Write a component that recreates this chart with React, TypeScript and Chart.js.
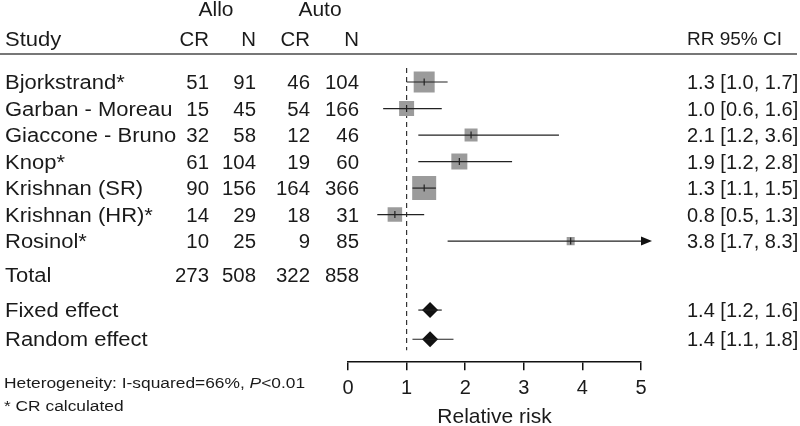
import React, { useEffect, useRef } from 'react';
import { Chart, registerables } from 'chart.js';

Chart.register(...registerables);

// ---- data ----
const studies = ['Bjorkstrand*', 'Garban - Moreau', 'Giaccone - Bruno', 'Knop*', 'Krishnan (SR)', 'Krishnan (HR)*', 'Rosinol*'];
const alloCR = [51, 15, 32, 61, 90, 14, 10];
const alloN = [91, 45, 58, 104, 156, 29, 25];
const autoCR = [46, 54, 12, 19, 164, 18, 9];
const autoN = [104, 166, 46, 60, 366, 31, 85];
const rr = [1.3, 1.0, 2.1, 1.9, 1.3, 0.8, 3.8];
const rrLower = [1.0, 0.6, 1.2, 1.2, 1.1, 0.5, 1.7];
const rrUpper = [1.7, 1.6, 3.6, 2.8, 1.5, 1.3, 8.3];
const weights = [25.3, 12.9, 9.7, 14.7, 33.1, 12.1, 3.7];
const totals = [273, 508, 322, 858];
const pooledLabels = ['Fixed effect', 'Random effect'];
const pooledRR = [1.4, 1.4];
const pooledLower = [1.2, 1.1];
const pooledUpper = [1.6, 1.8];
const xTicks = [0, 1, 2, 3, 4, 5];
const heterogeneity = ['Heterogeneity: I-squared=66%, ', 'P', '<0.01'];
const footnote = '* CR calculated';

// row positions (row index units)
const studyRows = studies.map((_, i) => i);
const totalRow = 7.27;
const pooledRows = [8.6, 9.7];
const headerRows = [-2.77, -1.64];

const FONT = '"Liberation Sans", Arial, Helvetica, sans-serif';
const TEXT = '#1a1a1a';

function txt(ctx: CanvasRenderingContext2D, s: string, x: number, y: number, align: CanvasTextAlign, size: number, sx = 1, style = '') {
  ctx.save();
  ctx.font = `${style} ${size}px ${FONT}`;
  ctx.fillStyle = TEXT;
  ctx.textBaseline = 'alphabetic';
  ctx.textAlign = align;
  ctx.translate(x, y + 0.358 * size);
  ctx.scale(sx, 1);
  ctx.fillText(s, 0, 0);
  ctx.restore();
}

const forestPlugin = {
  id: 'forest',
  beforeDatasetsDraw(chart: any) {
    const { ctx, chartArea } = chart;
    const xs = chart.scales.x;
    ctx.save();
    ctx.strokeStyle = '#333';
    ctx.lineWidth = 1.2;
    ctx.setLineDash([5, 4]);
    const x1 = xs.getPixelForValue(1);
    ctx.beginPath();
    ctx.moveTo(x1, chartArea.top + 15);
    ctx.lineTo(x1, chartArea.bottom - 12);
    ctx.stroke();
    ctx.restore();
  },
  afterDatasetsDraw(chart: any) {
    const { ctx } = chart;
    const xs = chart.scales.x;
    const ys = chart.scales.y;
    const xmax = xs.max;
    ctx.save();
    ctx.strokeStyle = '#222';
    ctx.fillStyle = '#111';
    ctx.lineWidth = 1.2;
    studies.forEach((_, i) => {
      const y = ys.getPixelForValue(studyRows[i]);
      const xl = xs.getPixelForValue(rrLower[i]);
      const clipped = rrUpper[i] > xmax;
      const xu = xs.getPixelForValue(Math.min(rrUpper[i], xmax));
      ctx.beginPath();
      ctx.moveTo(xl, y);
      ctx.lineTo(xu, y);
      ctx.stroke();
      if (clipped) {
        ctx.beginPath();
        ctx.moveTo(xu, y - 4.5);
        ctx.lineTo(xu + 11, y);
        ctx.lineTo(xu, y + 4.5);
        ctx.closePath();
        ctx.fill();
      }
      const xe = xs.getPixelForValue(rr[i]);
      ctx.beginPath();
      ctx.moveTo(xe, y - 3.5);
      ctx.lineTo(xe, y + 3.5);
      ctx.stroke();
    });
    pooledRR.forEach((_, i) => {
      const y = ys.getPixelForValue(pooledRows[i]);
      ctx.beginPath();
      ctx.moveTo(xs.getPixelForValue(pooledLower[i]), y);
      ctx.lineTo(xs.getPixelForValue(pooledUpper[i]), y);
      ctx.stroke();
    });
    ctx.restore();
  },
  afterDraw(chart: any) {
    const { ctx, chartArea } = chart;
    const ys = chart.scales.y;
    const colRight = [209, 256, 310, 359];
    const xStudy = 5;
    const xRR = 687;
    const hy0 = ys.getPixelForValue(headerRows[0]);
    const hy1 = ys.getPixelForValue(headerRows[1]);
    txt(ctx, 'Allo', 216, hy0, 'center', 20, 1.05);
    txt(ctx, 'Auto', 320, hy0, 'center', 20, 1.05);
    txt(ctx, 'Study', xStudy, hy1, 'left', 20, 1.1);
    txt(ctx, 'CR', colRight[0], hy1, 'right', 20, 1.02);
    txt(ctx, 'N', colRight[1], hy1, 'right', 20, 1.02);
    txt(ctx, 'CR', colRight[2], hy1, 'right', 20, 1.02);
    txt(ctx, 'N', colRight[3], hy1, 'right', 20, 1.02);
    txt(ctx, 'RR 95% CI', xRR, hy1, 'left', 19, 1.0);
    ctx.save();
    ctx.strokeStyle = '#777';
    ctx.lineWidth = 2;
    ctx.beginPath();
    ctx.moveTo(0, chartArea.top + 1);
    ctx.lineTo(797, chartArea.top + 1);
    ctx.stroke();
    ctx.restore();
    studies.forEach((s, i) => {
      const y = ys.getPixelForValue(studyRows[i]);
      txt(ctx, s, xStudy, y, 'left', 20, 1.1);
      [alloCR[i], alloN[i], autoCR[i], autoN[i]].forEach((v, c) => txt(ctx, String(v), colRight[c], y, 'right', 20, 1.02));
      txt(ctx, `${rr[i].toFixed(1)} [${rrLower[i].toFixed(1)}, ${rrUpper[i].toFixed(1)}]`, xRR, y, 'left', 20, 1.0);
    });
    const ty = ys.getPixelForValue(totalRow);
    txt(ctx, 'Total', xStudy, ty, 'left', 20, 1.1);
    totals.forEach((v, c) => txt(ctx, String(v), colRight[c], ty, 'right', 20, 1.02));
    pooledLabels.forEach((s, i) => {
      const y = ys.getPixelForValue(pooledRows[i]);
      txt(ctx, s, xStudy, y, 'left', 20, 1.1);
      txt(ctx, `${pooledRR[i].toFixed(1)} [${pooledLower[i].toFixed(1)}, ${pooledUpper[i].toFixed(1)}]`, xRR, y, 'left', 20, 1.0);
    });
    const fy0 = chartArea.bottom + 20;
    const fy1 = chartArea.bottom + 43;
    const fs = 15.5;
    const sx = 1.12;
    let x = 4;
    heterogeneity.forEach((part, k) => {
      const style = k === 1 ? 'italic' : '';
      ctx.save();
      ctx.font = `${style} ${fs}px ${FONT}`;
      const w = ctx.measureText(part).width * sx;
      ctx.restore();
      txt(ctx, part, x, fy0, 'left', fs, sx, style);
      x += w;
    });
    txt(ctx, footnote, 4, fy1, 'left', fs, sx);
  },
};

export default function App() {
  const ref = useRef<HTMLCanvasElement>(null);
  useEffect(() => {
    if (!ref.current) return;
    const maxW = Math.max(...weights);
    const chart = new Chart(ref.current, {
      type: 'scatter',
      data: {
        datasets: [
          {
            label: 'Studies',
            data: rr.map((v, i) => ({ x: v, y: studyRows[i] })),
            pointStyle: 'rect',
            pointRadius: weights.map((w) => (24 * Math.sqrt(w / maxW)) / Math.SQRT2),
            backgroundColor: '#9b9b9b',
            borderWidth: 0,
          },
          {
            label: 'Pooled',
            data: pooledRR.map((v, i) => ({ x: v, y: pooledRows[i] })),
            pointStyle: 'rectRot',
            pointRadius: 8,
            backgroundColor: '#111',
            borderWidth: 0,
          },
        ],
      },
      options: {
        animation: false,
        responsive: true,
        maintainAspectRatio: false,
        layout: { padding: { left: 348, right: 159, top: 53, bottom: 0 } },
        plugins: { legend: { display: false }, tooltip: { enabled: false } },
        scales: {
          x: {
            type: 'linear',
            min: xTicks[0],
            max: xTicks[xTicks.length - 1],
            afterBuildTicks: (s: any) => { s.ticks = xTicks.map((v) => ({ value: v })); },
            border: { display: true, color: '#111', width: 1.5 },
            grid: { display: true, drawOnChartArea: false, drawTicks: true, tickLength: 8, color: '#111', lineWidth: 1.5 },
            ticks: { font: { size: 20, family: FONT }, color: TEXT, padding: 6, maxRotation: 0 },
            title: { display: true, text: 'Relative risk', font: { size: 21, family: FONT, lineHeight: 0.8 }, color: TEXT, padding: { top: 3, bottom: 0 } },
          },
          y: {
            type: 'linear',
            display: false,
            reverse: true,
            min: -1.094,
            max: 10.566,
          },
        },
      },
      plugins: [forestPlugin],
    });
    return () => chart.destroy();
  }, []);
  return (
    <div style={{ position: 'absolute', left: 0, top: 0, width: 800, height: 426 }}>
      <canvas ref={ref} />
    </div>
  );
}
